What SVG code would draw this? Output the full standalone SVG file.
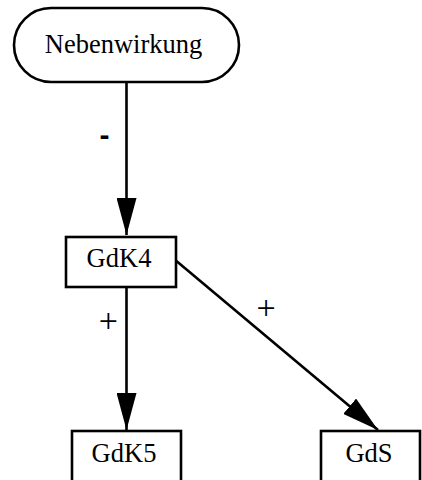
<svg xmlns="http://www.w3.org/2000/svg" width="422" height="480" viewBox="0 0 422 480">
<style>
.node{fill:#fff;stroke:#000;stroke-width:2.6}
.lbl{font-family:"Liberation Serif","Times New Roman",serif;font-size:26.5px;fill:#000;text-anchor:middle}
.edge{stroke:#000;stroke-width:2.6;fill:none}
.elbl{font-family:"Liberation Serif","Times New Roman",serif;font-size:34px;fill:#000;text-anchor:middle}
.minus{font-family:"Liberation Sans",Arial,sans-serif;font-weight:bold;font-size:30px;fill:#000;text-anchor:middle}
</style>
<defs>
<marker id="arr" markerUnits="userSpaceOnUse" viewBox="0 0 37 20" refX="37" refY="10" markerWidth="37" markerHeight="20" orient="auto">
<polygon points="0,0 37,10 0,20" fill="#000"/>
</marker>
</defs>
<rect width="422" height="480" fill="#fff"/>
<g id="connectors">
<line class="edge" x1="126.5" y1="82" x2="126.5" y2="235" marker-end="url(#arr)"/>
<text class="minus" x="104.5" y="145">-</text>
<line class="edge" x1="126.5" y1="287" x2="126.5" y2="430" marker-end="url(#arr)"/>
<text class="elbl" x="108.3" y="332">+</text>
<line class="edge" x1="174" y1="259" x2="378" y2="430" marker-end="url(#arr)"/>
<text class="elbl" x="266" y="319">+</text>
</g>
<g id="Nebenwirkung">
<rect class="node" x="14" y="8" width="225" height="74" rx="37" ry="37"/>
<text class="lbl" x="123.5" y="53">Nebenwirkung</text>
</g>
<g id="GdK4">
<rect class="node" x="66" y="237" width="110" height="50"/>
<text class="lbl" x="119" y="267">GdK4</text>
</g>
<g id="GdK5">
<rect class="node" x="72" y="431" width="109" height="60"/>
<text class="lbl" x="124" y="462">GdK5</text>
</g>
<g id="GdS">
<rect class="node" x="321" y="431" width="99" height="60"/>
<text class="lbl" x="369" y="462">GdS</text>
</g>
</svg>
